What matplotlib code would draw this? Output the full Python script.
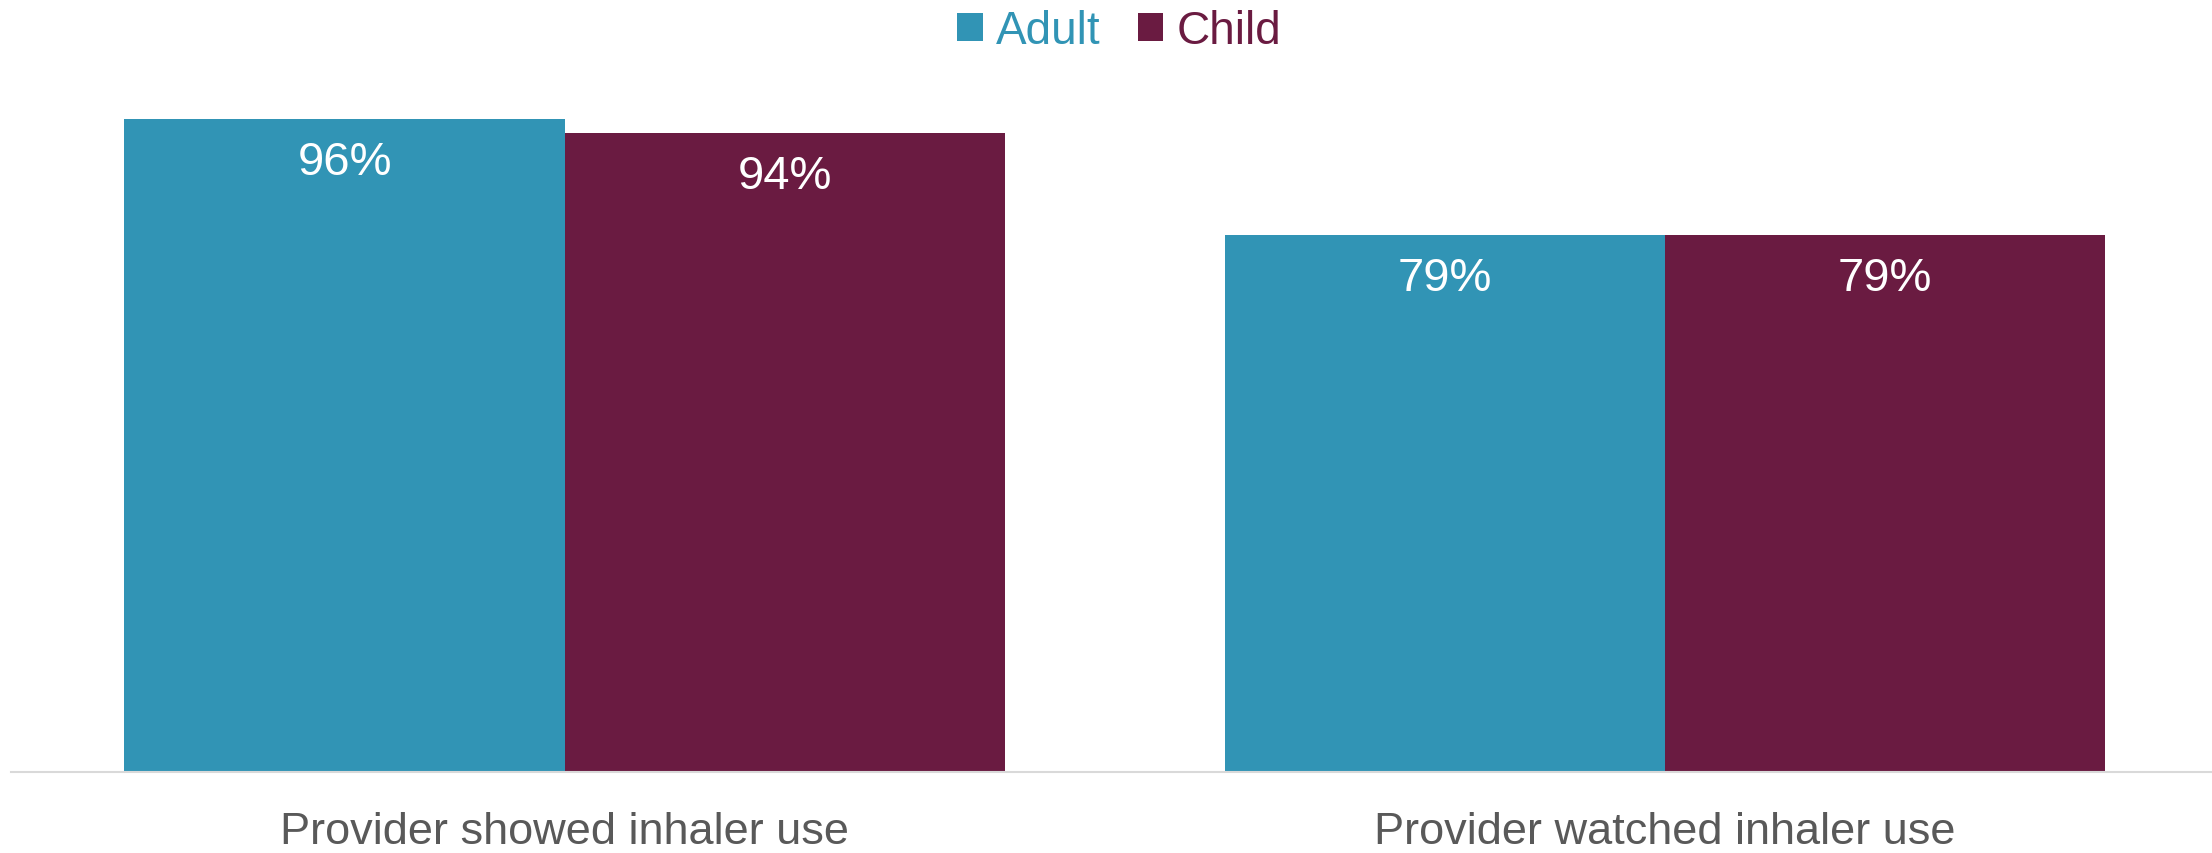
import matplotlib
matplotlib.use('Agg')
import matplotlib.pyplot as plt
import numpy as np

# data
categories = ['Provider showed inhaler use', 'Provider watched inhaler use']
series_names = ['Adult', 'Child']
adult_values = [96, 79]
child_values = [94, 79]

colors = {'Adult': '#3194B5', 'Child': '#6A1B41'}

plt.rcParams['font.family'] = ['Liberation Sans', 'DejaVu Sans']

fig = plt.figure(figsize=(22.12, 8.54), dpi=100)
ax = fig.add_axes([0.005, 0.0948, 0.995, 0.7963])

x = np.arange(len(categories))
width = 0.4

bars_adult = ax.bar(x - width / 2, adult_values, width, color=colors['Adult'], label='Adult')
bars_child = ax.bar(x + width / 2, child_values, width, color=colors['Child'], label='Child')

# value labels inside the top of each bar
for bars in (bars_adult, bars_child):
    for b in bars:
        h = b.get_height()
        ax.annotate(f'{h:.0f}%', xy=(b.get_x() + b.get_width() / 2, h),
                    xytext=(0, -31), textcoords='offset points',
                    ha='center', va='center', color='white', fontsize=34)

ax.set_xlim(-0.503, 1.497)
ax.set_ylim(0, 100)
ax.set_xticks(x)
ax.set_xticklabels(categories, fontsize=32.5, color='#595959')
ax.tick_params(axis='x', length=0, pad=28)
ax.set_yticks([])

for side in ['top', 'right', 'left']:
    ax.spines[side].set_visible(False)
ax.spines['bottom'].set_color('#D9D9D9')
ax.spines['bottom'].set_linewidth(1.5)

leg = fig.legend(handles=[bars_adult, bars_child], loc='center',
                 bbox_to_anchor=(0.506, 0.962), ncol=2, frameon=False,
                 fontsize=33, handlelength=0.55, handleheight=0.55,
                 handletextpad=0.3, columnspacing=0.8,
                 labelcolor=[colors['Adult'], colors['Child']])

fig.savefig('out.png', dpi=100)
